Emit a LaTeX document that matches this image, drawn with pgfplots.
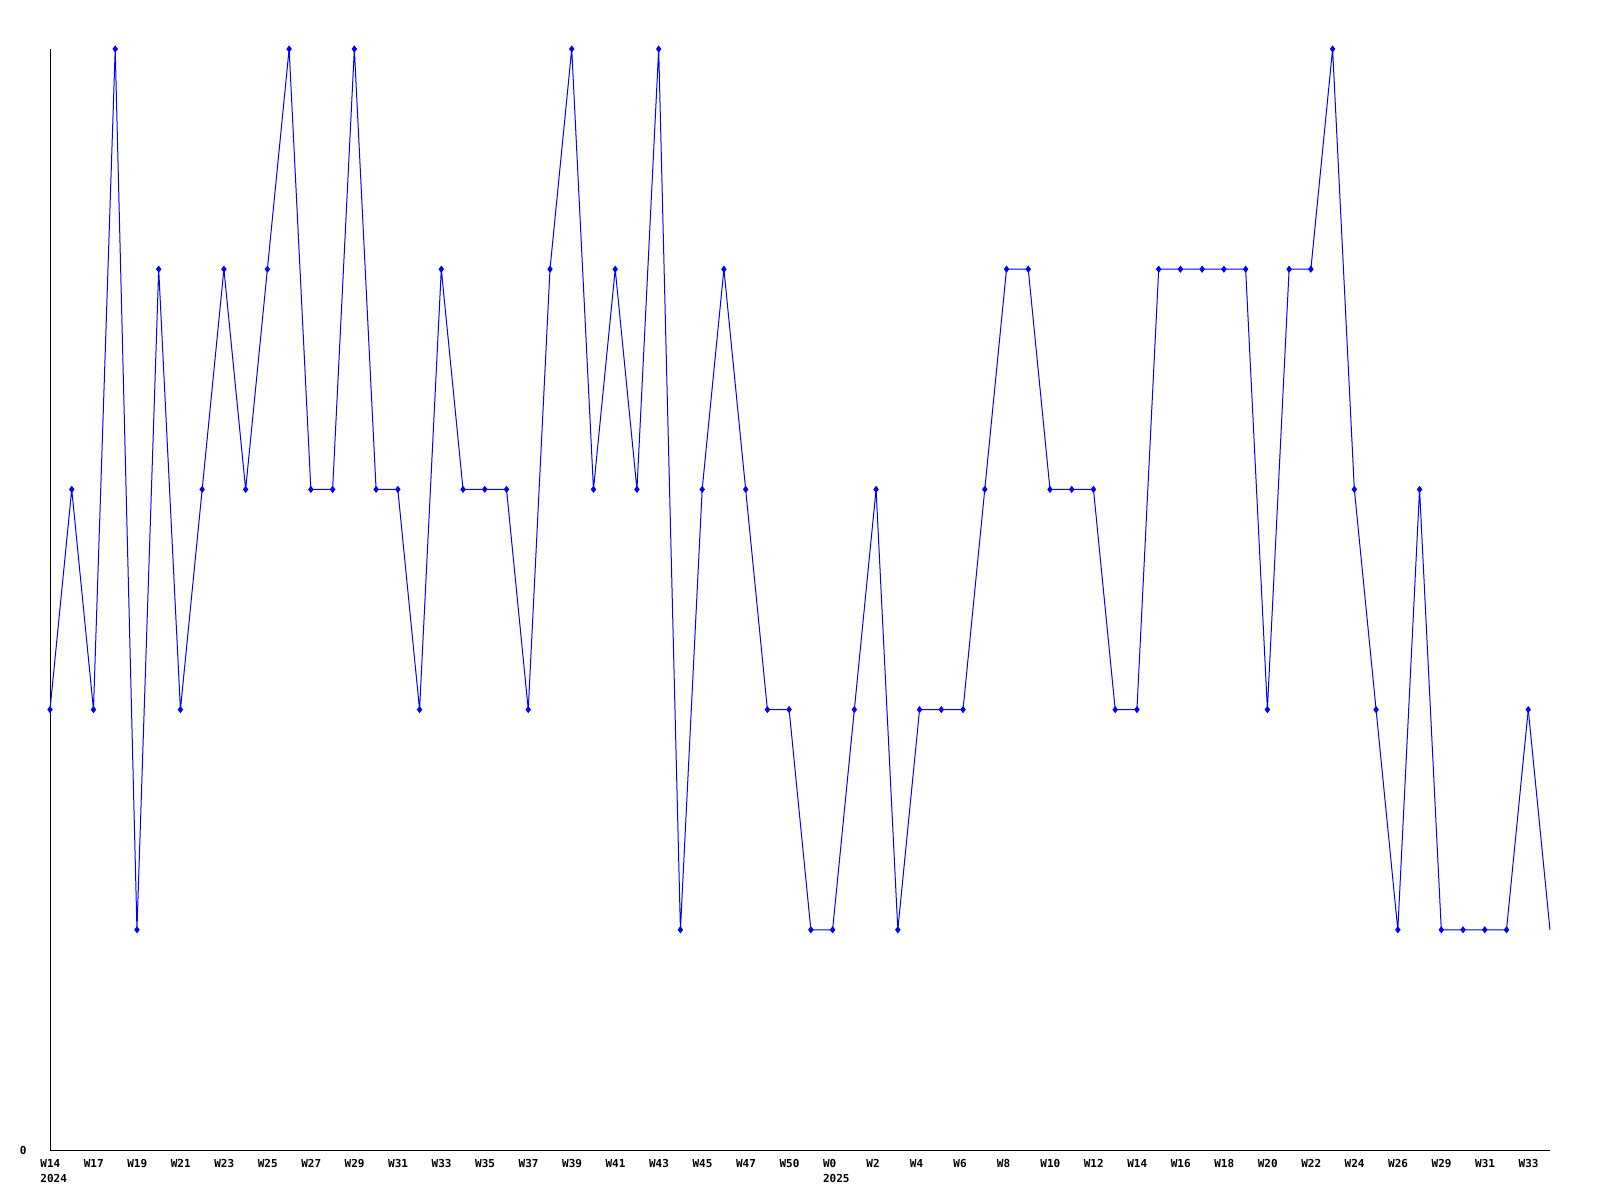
\documentclass[border=0pt]{standalone}
\usepackage{fontspec}
\setmainfont{DejaVu Sans Mono}
\usepackage{pgfplots}
\pgfplotsset{compat=1.18}
\pgfplotstableread{
x y
0 2
1 3
2 2
3 5
4 1
5 4
6 2
7 3
8 4
9 3
10 4
11 5
12 3
13 3
14 5
15 3
16 3
17 2
18 4
19 3
20 3
21 3
22 2
23 4
24 5
25 3
26 4
27 3
28 5
29 1
30 3
31 4
32 3
33 2
34 2
35 1
36 1
37 2
38 3
39 1
40 2
41 2
42 2
43 3
44 4
45 4
46 3
47 3
48 3
49 2
50 2
51 4
52 4
53 4
54 4
55 4
56 2
57 4
58 4
59 5
60 3
61 2
62 1
63 3
64 1
65 1
66 1
67 1
68 2
}\mydata
\pgfplotstableread{
x y
68 2
69 1
}\mytail
\begin{document}
\begin{tikzpicture}
\useasboundingbox (0,0) rectangle (800bp,600bp);
\begin{axis}[
  at={(25bp,25bp)}, anchor=south west,
  scale only axis, width=750bp, height=550.5bp,
  xmin=0, xmax=69, ymin=0, ymax=5,
  axis x line*=bottom, axis y line*=left,
  axis line style={-, black, line width=0.5bp},
  major tick length=0pt,
  clip=false,
  xtick={0,2,...,68},
  xticklabels={{W14\\2024},W17,W19,W21,W23,W25,W27,W29,W31,W33,W35,W37,W39,W41,W43,W45,W47,W50,{W0\\2025},W2,W4,W6,W8,W10,W12,W14,W16,W18,W20,W22,W24,W26,W29,W31,W33},
  xticklabel style={anchor=north west, inner sep=0pt, xshift=-5bp, yshift=-4.5bp, align=left, font=\bfseries\fontsize{5.5bp}{7.5bp}\selectfont},
  ytick={0}, yticklabels={0},
  yticklabel style={anchor=east, inner sep=0pt, xshift=-11.5bp, font=\bfseries\fontsize{5.5bp}{7.5bp}\selectfont},
]
\addplot[color={rgb,255:red,0;green,0;blue,255}, line width=0.5bp, mark=diamond*, mark size=1.4bp, mark options={solid, fill={rgb,255:red,0;green,0;blue,255}}] table[x=x,y=y] {\mydata};
\addplot[color={rgb,255:red,0;green,0;blue,255}, line width=0.5bp, no marks] table[x=x,y=y] {\mytail};
\end{axis}
\end{tikzpicture}
\end{document}
